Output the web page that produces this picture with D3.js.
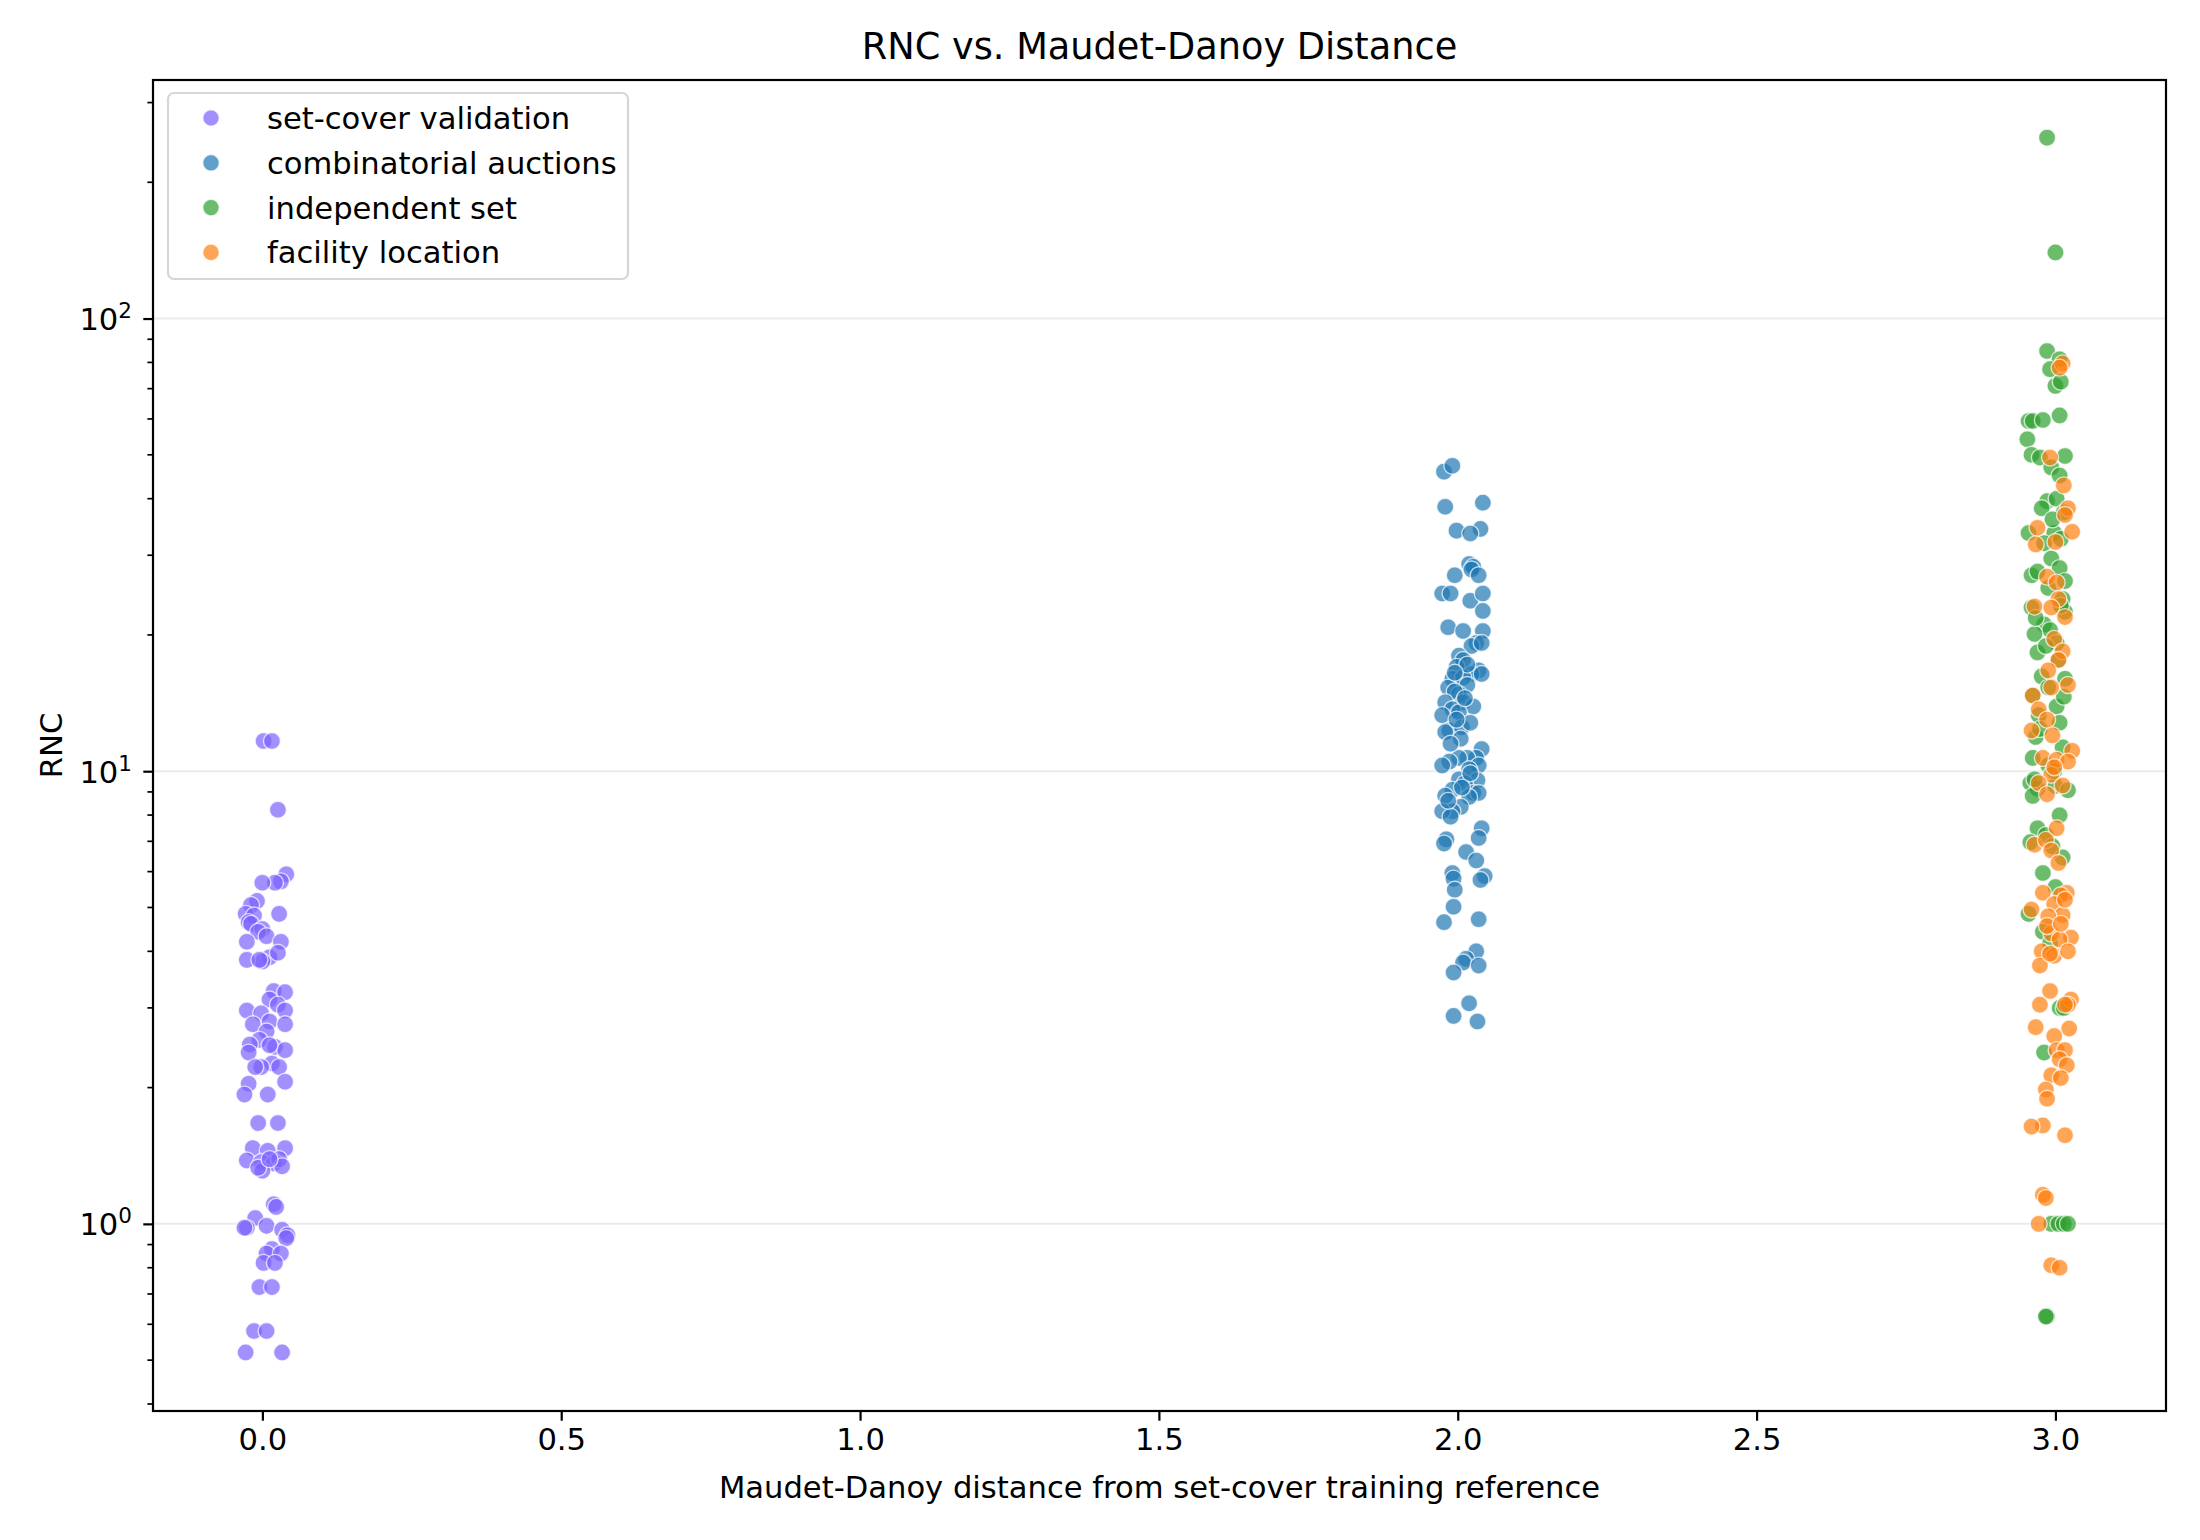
<!DOCTYPE html>
<html lang="en">
<head>
  <meta charset="UTF-8">
  <title>RNC vs. Maudet-Danoy Distance</title>
  <style>
    body { margin: 0; background: #fff; }
    text { font-family: 'DejaVu Sans', sans-serif; }
  </style>
</head>
<body>
  <div class="canvas"></div>

  <script src="https://cdnjs.cloudflare.com/ajax/libs/d3/7.8.5/d3.min.js"></script>
  <script>
// series names + colours
const seriesNames = ['set-cover validation', 'combinatorial auctions', 'independent set', 'facility location'];
const seriesColors = ['#7b61ff', '#1f77b4', '#2ca02c', '#ff7f0e'];

// [distance, RNC]
const setCoverPts = [
  [0.002, 11.66], [0.016, 11.66], [0.026, 8.22], [0.040, 5.92], [0.031, 5.71], [0.021, 5.67],
  [0.000, 5.67], [-0.009, 5.17], [-0.019, 5.06], [-0.028, 4.84], [-0.014, 4.8], [0.028, 4.84],
  [-0.023, 4.64], [-0.019, 4.6], [0.000, 4.48], [-0.007, 4.42], [0.007, 4.32], [0.031, 4.20],
  [-0.026, 4.20], [0.012, 3.88], [0.026, 3.97], [0.000, 3.80], [-0.026, 3.83], [-0.005, 3.83],
  [0.019, 3.27], [0.038, 3.25], [0.012, 3.13], [0.026, 3.05], [-0.026, 2.96], [0.038, 2.96],
  [-0.002, 2.92], [0.012, 2.80], [0.038, 2.76], [-0.016, 2.76], [0.007, 2.66], [-0.005, 2.55],
  [-0.021, 2.49], [0.021, 2.46], [0.038, 2.42], [-0.023, 2.39], [0.012, 2.48], [0.016, 2.26],
  [-0.002, 2.22], [0.028, 2.22], [-0.012, 2.22], [-0.023, 2.04], [0.038, 2.06], [0.009, 1.93],
  [-0.030, 1.93], [-0.007, 1.67], [0.026, 1.67], [-0.016, 1.47], [0.009, 1.45], [0.038, 1.47],
  [-0.026, 1.38], [-0.002, 1.37], [0.019, 1.36], [0.028, 1.39], [0.000, 1.31], [0.033, 1.34],
  [-0.007, 1.33], [0.012, 1.39], [0.019, 1.105], [0.023, 1.09], [-0.012, 1.03], [-0.026, 0.98],
  [-0.030, 0.98], [0.007, 0.99], [0.033, 0.97], [0.042, 0.944], [0.040, 0.93], [0.016, 0.88],
  [0.007, 0.86], [0.031, 0.86], [0.002, 0.82], [0.021, 0.82], [-0.005, 0.725], [0.016, 0.725],
  [-0.014, 0.58], [0.007, 0.58], [-0.028, 0.52], [0.033, 0.52]
];

const auctionPts = [
  [1.977, 45.9], [1.991, 47.3], [1.979, 38.4], [2.042, 39.2], [1.998, 34.0], [2.038, 34.3],
  [2.021, 33.5], [2.019, 28.7], [2.026, 28.3], [2.023, 27.9], [1.995, 27.1], [2.035, 27.1],
  [1.974, 24.7], [1.988, 24.7], [2.021, 23.8], [2.042, 24.7], [2.042, 22.6], [1.984, 20.8],
  [2.009, 20.4], [2.042, 20.4], [2.031, 19.2], [2.023, 18.9], [2.040, 19.2], [2.002, 18.0],
  [2.009, 17.6], [1.998, 17.0], [2.035, 16.7], [2.023, 16.4], [2.040, 16.4], [1.991, 16.0],
  [2.009, 16.1], [1.984, 15.3], [2.016, 15.5], [2.002, 14.8], [1.995, 15.0], [1.979, 14.2],
  [2.009, 14.2], [2.026, 13.9], [1.991, 13.7], [2.002, 13.5], [1.974, 13.3], [1.986, 12.3],
  [2.007, 12.5], [1.979, 12.2], [2.021, 12.8], [2.040, 11.2], [2.031, 10.7], [2.016, 10.7],
  [2.002, 10.7], [1.986, 10.5], [2.035, 10.3], [1.974, 10.3], [2.019, 10.1], [2.002, 9.6],
  [2.033, 9.55], [2.012, 9.4], [1.991, 9.1], [2.026, 8.95], [2.035, 8.95], [1.979, 8.83],
  [2.019, 8.77], [2.005, 8.34], [1.991, 8.16], [1.974, 8.16], [1.988, 7.93], [2.040, 7.48],
  [2.035, 7.12], [1.981, 7.07], [1.977, 6.92], [2.014, 6.63], [2.031, 6.35], [1.991, 5.96],
  [1.993, 5.79], [2.045, 5.87], [2.038, 5.75], [1.995, 5.47], [1.993, 5.02], [1.977, 4.64],
  [2.035, 4.71], [2.031, 4.0], [2.014, 3.85], [2.009, 3.78], [2.035, 3.72], [1.993, 3.59],
  [2.019, 3.07], [1.993, 2.88], [2.033, 2.80], [2.012, 14.5], [1.998, 13.0], [2.005, 11.8],
  [1.988, 11.5], [2.021, 9.9], [2.007, 9.2], [1.984, 8.6], [2.016, 17.2], [1.995, 16.5]
];

const indepSetPts = [
  [2.986, 251], [3.000, 140], [2.986, 84.8], [3.007, 81.3], [2.991, 77.3], [3.000, 71.0],
  [3.009, 72.5], [3.007, 61.1], [2.955, 59.4], [2.962, 59.4], [2.979, 59.7], [2.953, 54.1],
  [2.960, 50.0], [3.016, 49.7], [2.974, 49.3], [2.993, 46.9], [3.007, 45.0], [2.986, 39.5],
  [3.002, 40.0], [2.977, 38.1], [3.014, 37.3], [2.955, 33.6], [2.998, 33.6], [3.009, 32.6],
  [2.981, 31.9], [2.993, 29.5], [3.007, 28.1], [2.960, 27.1], [3.016, 26.3], [2.988, 25.4],
  [3.012, 24.0], [2.960, 23.0], [3.016, 22.5], [2.981, 21.1], [2.991, 20.5], [2.965, 20.1],
  [3.002, 19.2], [2.970, 18.3], [3.005, 17.6], [2.977, 16.2], [3.016, 16.0], [2.988, 15.3],
  [2.962, 14.7], [3.002, 13.9], [2.972, 13.3], [3.007, 12.8], [2.967, 11.9], [3.012, 11.3],
  [2.962, 10.7], [2.988, 10.3], [2.958, 9.42], [2.970, 9.15], [3.000, 9.28], [3.021, 9.08],
  [2.962, 8.82], [3.007, 7.99], [2.970, 7.48], [2.984, 7.23], [2.958, 6.97], [2.995, 6.83],
  [3.012, 6.45], [2.979, 5.96], [3.000, 5.55], [2.955, 4.84], [2.979, 4.42], [2.991, 4.17],
  [3.007, 3.00], [3.014, 3.00], [2.981, 2.39], [2.993, 1.0], [3.005, 1.0], [3.014, 1.0],
  [3.021, 1.0], [2.986, 0.624], [2.984, 0.624], [2.967, 21.8], [3.009, 23.2], [2.974, 12.4],
  [2.998, 10.0], [2.965, 9.6], [3.014, 14.6], [2.984, 18.9], [2.995, 36.0], [2.970, 27.6]
];

const facilityPts = [
  [3.012, 79.6], [3.007, 77.9], [2.991, 49.3], [3.014, 42.8], [3.021, 38.1], [3.016, 36.8],
  [2.970, 34.5], [3.028, 33.8], [2.967, 31.7], [3.000, 32.1], [2.986, 26.9], [3.002, 26.1],
  [2.965, 23.1], [3.005, 24.0], [2.993, 23.0], [3.016, 21.9], [2.998, 19.6], [3.012, 18.4],
  [3.005, 17.6], [2.988, 16.7], [2.993, 15.3], [3.021, 15.5], [2.962, 14.7], [2.972, 13.7],
  [2.986, 13.0], [2.995, 12.0], [2.960, 12.3], [3.028, 11.1], [2.979, 10.7], [3.002, 10.6],
  [3.021, 10.5], [2.993, 9.82], [2.972, 9.42], [3.012, 9.30], [2.986, 8.89], [3.002, 7.48],
  [2.965, 6.88], [2.984, 7.05], [2.993, 6.68], [3.005, 6.27], [2.979, 5.39], [3.019, 5.39],
  [3.009, 5.32], [2.998, 5.09], [2.960, 4.95], [3.012, 4.81], [2.988, 4.78], [3.026, 4.29],
  [2.993, 4.38], [3.007, 4.25], [2.977, 4.0], [2.998, 3.91], [3.021, 4.0], [2.974, 3.72],
  [2.991, 3.27], [3.026, 3.13], [3.021, 3.05], [2.974, 3.05], [2.967, 2.72], [3.023, 2.70],
  [2.998, 2.60], [3.002, 2.42], [3.016, 2.42], [3.007, 2.31], [3.019, 2.24], [2.993, 2.13],
  [3.009, 2.10], [2.984, 1.98], [2.986, 1.89], [2.979, 1.65], [2.960, 1.64], [3.016, 1.57],
  [2.979, 1.16], [2.984, 1.14], [2.972, 1.0], [2.993, 0.81], [3.007, 0.80],
  [3.016, 5.20], [2.986, 4.55], [3.009, 4.60], [2.991, 3.95], [3.016, 3.05], [2.998, 10.2]
];

const allSeries = [setCoverPts, auctionPts, indepSetPts, facilityPts];

// tick labels
const xTicks = [0, 0.5, 1, 1.5, 2, 2.5, 3];
const yMajor = [1, 10, 100];
const yMajorExp = ['0', '1', '2'];

const W = 2200, H = 1540;
const plotL = 153, plotR = 2166, plotT = 80, plotB = 1411;
const fs = 30.6;

const svg = d3.select('.canvas').append('svg')
  .attr('width', W)
  .attr('height', H);

const x = d3.scaleLinear().domain([-0.183, 3.185]).range([plotL, plotR]);
const y = d3.scaleLog().domain([0.386, 336.5]).range([plotB, plotT]);

// grid lines at the decades
svg.append('g')
  .selectAll('line')
  .data(yMajor)
  .join('line')
  .attr('x1', plotL)
  .attr('x2', plotR)
  .attr('y1', d => y(d))
  .attr('y2', d => y(d))
  .attr('stroke', '#ebebeb')
  .attr('stroke-width', 2);

// points
const pts = svg.append('g');
allSeries.forEach((s, i) => {
  pts.append('g')
    .selectAll('circle')
    .data(s)
    .join('circle')
    .attr('cx', d => x(d[0]))
    .attr('cy', d => y(d[1]))
    .attr('r', 8.5)
    .attr('fill', seriesColors[i])
    .attr('fill-opacity', 0.7)
    .attr('stroke', '#fff')
    .attr('stroke-opacity', 0.7)
    .attr('stroke-width', 1.4);
});

// x axis
const xAxis = svg.append('g')
  .attr('transform', `translate(0, ${plotB})`)
  .call(d3.axisBottom(x).tickValues(xTicks).tickFormat(d3.format('.1f')).tickSize(9.7).tickPadding(8));
xAxis.select('.domain').remove();
xAxis.selectAll('line').attr('stroke', '#000').attr('stroke-width', 2.2);
xAxis.selectAll('text').attr('font-size', fs).attr('font-family', 'DejaVu Sans').attr('fill', '#000');

// minor y ticks
const minor = [];
[0.1, 1, 10, 100].forEach(b => {
  for (let k = 2; k <= 9; k++) {
    const v = b * k;
    if (v > 0.386 && v < 336.5) minor.push(v);
  }
});
svg.append('g')
  .selectAll('line')
  .data(minor)
  .join('line')
  .attr('x1', plotL - 5.6)
  .attr('x2', plotL)
  .attr('y1', d => y(d))
  .attr('y2', d => y(d))
  .attr('stroke', '#000')
  .attr('stroke-width', 1.7);

// y axis with 10^n labels
const yAxis = svg.append('g')
  .attr('transform', `translate(${plotL}, 0)`)
  .call(d3.axisLeft(y).tickValues(yMajor).tickFormat('').tickSize(9.7));
yAxis.select('.domain').remove();
yAxis.selectAll('line').attr('stroke', '#000').attr('stroke-width', 2.2);
yAxis.selectAll('.tick').each(function (d, i) {
  const t = d3.select(this).append('text')
    .attr('x', -21)
    .attr('dy', 11)
    .attr('text-anchor', 'end')
    .attr('fill', '#000')
    .attr('font-size', fs);
  t.append('tspan').text('10');
  t.append('tspan').attr('dy', -12).attr('font-size', 21.5).text(yMajorExp[i]);
});

// frame
svg.append('rect')
  .attr('x', plotL)
  .attr('y', plotT)
  .attr('width', plotR - plotL)
  .attr('height', plotB - plotT)
  .attr('fill', 'none')
  .attr('stroke', '#000')
  .attr('stroke-width', 2.2);

// titles
svg.append('text')
  .attr('x', (plotL + plotR) / 2)
  .attr('y', 59)
  .attr('text-anchor', 'middle')
  .attr('font-size', 36.7)
  .text('RNC vs. Maudet-Danoy Distance');

svg.append('text')
  .attr('x', (plotL + plotR) / 2)
  .attr('y', 1498)
  .attr('text-anchor', 'middle')
  .attr('font-size', fs)
  .text('Maudet-Danoy distance from set-cover training reference');

svg.append('text')
  .attr('transform', `translate(62, ${(plotT + plotB) / 2}) rotate(-90)`)
  .attr('text-anchor', 'middle')
  .attr('font-size', fs)
  .text('RNC');

// legend
const legend = svg.append('g');
legend.append('rect')
  .attr('x', 168)
  .attr('y', 93)
  .attr('width', 460)
  .attr('height', 186)
  .attr('rx', 6)
  .attr('fill', '#fff')
  .attr('fill-opacity', 0.8)
  .attr('stroke', '#d6d6d6')
  .attr('stroke-width', 2.2);

const rows = legend.selectAll('g.item')
  .data(seriesNames)
  .join('g')
  .attr('class', 'item')
  .attr('transform', (d, i) => `translate(0, ${118 + i * 44.8})`);

rows.append('circle')
  .attr('cx', 211)
  .attr('cy', 0)
  .attr('r', 8.3)
  .attr('fill', (d, i) => seriesColors[i])
  .attr('fill-opacity', 0.7)
  .attr('stroke', '#fff')
  .attr('stroke-opacity', 0.7)
  .attr('stroke-width', 1.4);

rows.append('text')
  .attr('x', 267)
  .attr('y', 11)
  .attr('font-size', fs)
  .text(d => d);
  </script>
</body>
</html>
